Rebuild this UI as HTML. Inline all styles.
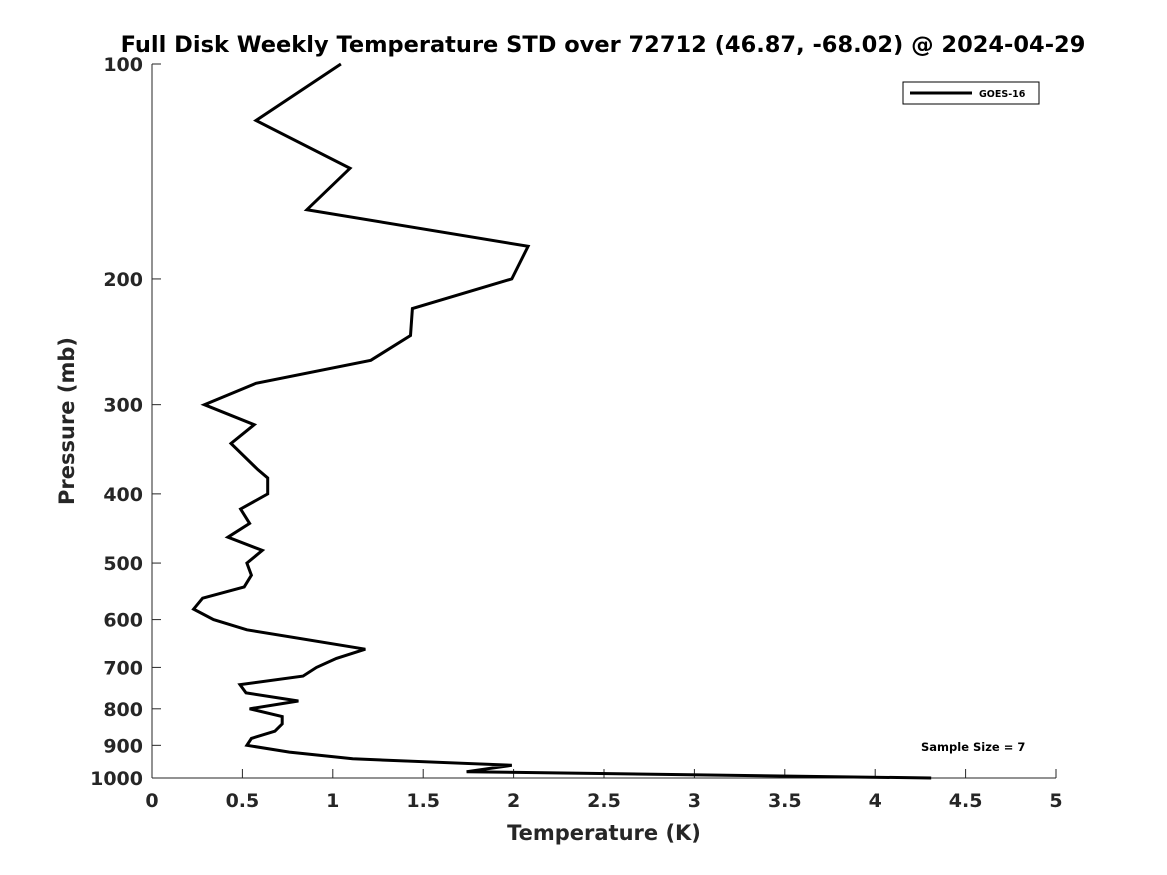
<!DOCTYPE html>
<html><head><meta charset="utf-8"><style>
body{margin:0;background:#fff;}
svg{display:block;font-family:"DejaVu Sans","Liberation Sans",sans-serif;}
</style></head><body>
<svg id="chart" width="1167" height="875">
<text x="603" y="52" text-anchor="middle" font-size="22.5" font-weight="bold">Full Disk Weekly Temperature STD over 72712 (46.87, -68.02) @ 2024-04-29</text>
<g id="axes"></g>
<path id="series" fill="none" stroke="#000" stroke-width="3" stroke-linejoin="miter"></path>
<g>
<rect x="903" y="82" width="136" height="22" fill="#fff" stroke="#000" stroke-width="1"/>
<line x1="910" y1="93" x2="972" y2="93" stroke="#000" stroke-width="3"/>
<text x="979" y="97" font-size="9.5" font-weight="bold">GOES-16</text>
</g>
<text x="921" y="751" font-size="11.5" font-weight="bold">Sample Size = 7</text>
<text x="604" y="840" text-anchor="middle" font-size="21" font-weight="bold" fill="#262626">Temperature (K)</text>
<text transform="translate(74,421) rotate(-90)" text-anchor="middle" font-size="21" font-weight="bold" fill="#262626">Pressure (mb)</text>
</svg>
<script>
const pressures=[100,120,140,160,180,200,220,240,260,280,300,320,340,370,380,400,420,440,460,480,500,520,540,560,580,600,620,660,680,700,720,740,760,780,800,820,840,860,880,900,920,940,960,980,1000];
const temps=[1.045,0.575,1.095,0.857,2.08,1.99,1.44,1.43,1.21,0.575,0.29,0.565,0.437,0.586,0.64,0.64,0.49,0.54,0.42,0.61,0.525,0.55,0.51,0.28,0.23,0.34,0.525,1.18,1.02,0.91,0.835,0.487,0.52,0.81,0.54,0.72,0.72,0.68,0.55,0.525,0.76,1.11,1.99,1.74,4.31];
const xTicks=[0,0.5,1,1.5,2,2.5,3,3.5,4,4.5,5];
const xTickLabels=["0","0.5","1","1.5","2","2.5","3","3.5","4","4.5","5"];
const yTicks=[100,200,300,400,500,600,700,800,900,1000];
const yTickLabels=["100","200","300","400","500","600","700","800","900","1000"];
const L=152,R=1056,T=64,B=778;
function xs(v){return L+(v-0)/5*(R-L);}
function ys(p){return T+(Math.log10(p)-2)*(B-T);}
const NS="http://www.w3.org/2000/svg";
const ax=document.getElementById('axes');
function mk(tag,attrs){const e=document.createElementNS(NS,tag);for(const k in attrs)e.setAttribute(k,attrs[k]);ax.appendChild(e);return e;}
const yl=mk('line',{x1:L,y1:T,x2:L,y2:B,stroke:'#262626','stroke-width':1});


const xl=mk('line',{x1:L,y1:B,x2:R,y2:B,stroke:'#262626','stroke-width':1});


xTicks.forEach((v,i)=>{
 const x=xs(v);
 const t=mk('line',{x1:x,y1:B,x2:x,y2:B-9,stroke:'#262626','stroke-width':1});
 
 
 const tx=mk('text',{x:x,y:807,'text-anchor':'middle','font-size':19,'font-weight':'bold',fill:'#262626'});
 tx.textContent=xTickLabels[i];
 
 
});
yTicks.forEach((p,i)=>{
 const y=ys(p);
 const t=mk('line',{x1:L,y1:y,x2:L+9,y2:y,stroke:'#262626','stroke-width':1});
 
 
 const tx=mk('text',{x:143,y:y+7,'text-anchor':'end','font-size':19,'font-weight':'bold',fill:'#262626'});
 tx.textContent=yTickLabels[i];
 
 
});
document.getElementById('series').setAttribute('d',pressures.map((p,i)=>(i?'L':'M')+xs(temps[i]).toFixed(1)+','+ys(p).toFixed(1)).join(' '));
</script>
</body></html>
